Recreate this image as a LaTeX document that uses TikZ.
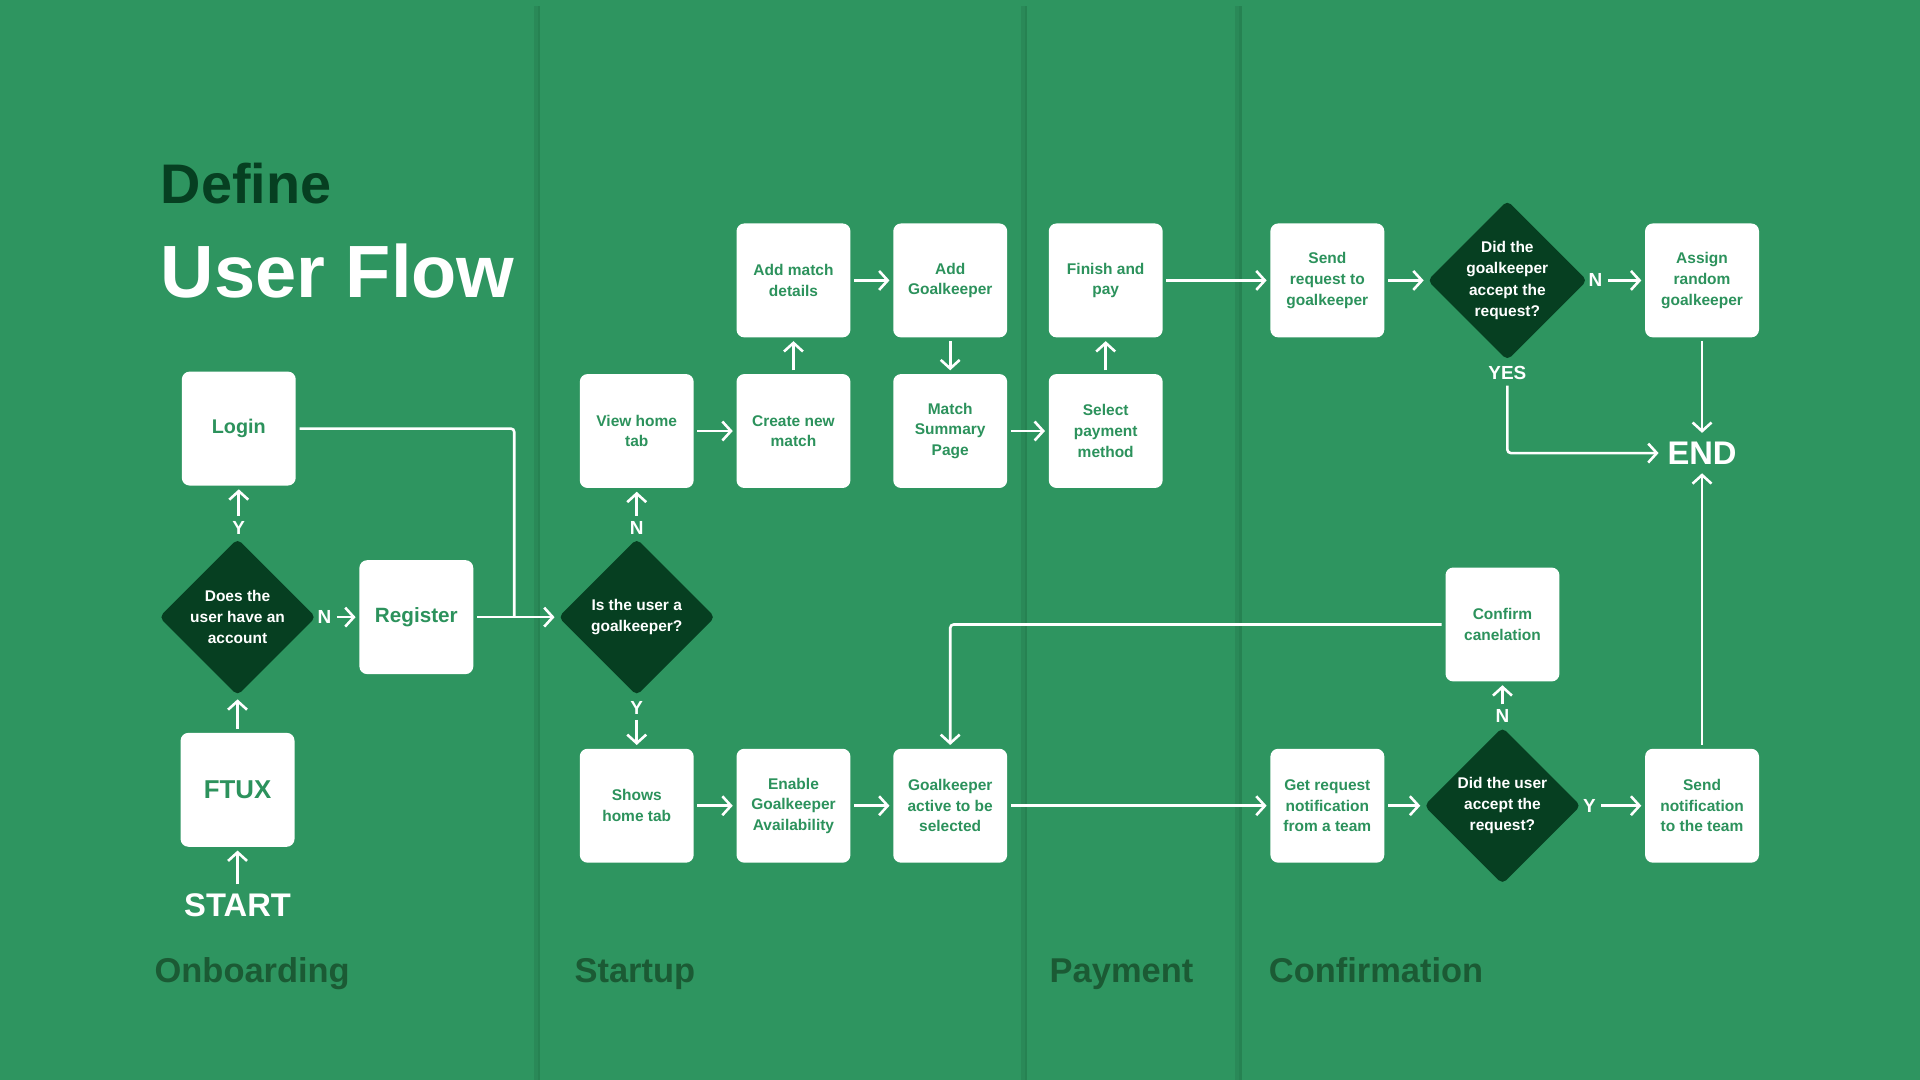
\documentclass[tikz,border=0pt]{standalone}
\usepackage{fontspec}
\setmainfont{Liberation Sans}
\usetikzlibrary{shapes.geometric,arrows.meta}
\definecolor{flowbg}{RGB}{46,149,96}
\definecolor{flowdark}{RGB}{6,63,33}
\definecolor{flowtext}{RGB}{44,146,92}
\definecolor{lanetext}{RGB}{27,90,52}
\definecolor{laneline}{RGB}{38,130,82}

\begin{document}
\begin{tikzpicture}[x=0.025cm,y=-0.025cm,
    screen/.style={fill=white, rounded corners=4.5pt, minimum width=2.325cm, minimum height=2.325cm,
      inner sep=0pt, align=center, text=flowtext, font=\bfseries\fontsize{9}{12}\selectfont},
    choice/.style={diamond, fill=flowdark, rounded corners=3pt, minimum width=3.2cm, minimum height=3.2cm,
      inner sep=0pt, align=center, text=white, font=\bfseries\fontsize{9}{12.3}\selectfont},
    answer/.style={text=white, font=\bfseries\fontsize{11}{13}\selectfont, inner sep=1pt},
    endpoint/.style={text=white, font=\bfseries\fontsize{19}{22}\selectfont, inner sep=3pt},
    arr/.style={white, line width=1.5pt, -{Straight Barb[length=5pt,width=11pt]}, shorten <=2pt, shorten >=2pt},
    link/.style={white, line width=1.5pt, shorten <=2pt, rounded corners=2pt},
    lane/.style={text=lanetext, font=\bfseries\fontsize{20}{24}\selectfont, anchor=base west, inner sep=0pt}]
    \fill[flowbg] (0,0) rectangle (1568,882);
    \useasboundingbox (0,0) rectangle (1568,882);
    % lanes
    \foreach \x in {440,838,1013} {
        \draw[black, opacity=0.08, line width=3pt] (\x-2,5) -- (\x-2,882);
        \draw[laneline, line width=1.4pt] (\x,5) -- (\x,882);
    }
    \node[lane] (onboarding) at (126,802) {Onboarding};
    \node[lane] (startup) at (469,802) {Startup};
    \node[lane] (payment) at (857,802) {Payment};
    \node[lane] (confirmation) at (1036,802) {Confirmation};
    % title
    \node[anchor=base west, inner sep=0pt, text=flowdark, font=\bfseries\fontsize{32.4}{36}\selectfont] (define) at (131,166) {Define};
    \node[anchor=base west, inner sep=0pt, text=white, font=\bfseries\fontsize{43}{50}\selectfont] (userflow) at (131,243) {User Flow};
    % onboarding
    \node[screen, font=\bfseries\fontsize{11.5}{14}\selectfont] (login) at (195,350) {Login};
    \node[screen, font=\bfseries\fontsize{12}{14}\selectfont] (register) at (340,504) {Register};
    \node[screen, font=\bfseries\fontsize{15}{18}\selectfont] (ftux) at (194,645) {FTUX};
    \node[choice] (account) at (194,504) {Does the\\user have an\\account};
    \node[endpoint] (start) at (194,739) {START};
    \node[answer] (accountY) at (195,431) {Y};
    \node[answer] (accountN) at (265,504) {N};
    \coordinate (join) at (420,504);
    % startup
    \node[choice] (keeper) at (520,504) {Is the user a\\goalkeeper?};
    \node[answer] (keeperN) at (520,431) {N};
    \node[answer] (keeperY) at (520,578) {Y};
    \node[screen] (viewhome) at (520,352) {View home\\tab};
    \node[screen] (newmatch) at (648,352) {Create new\\match};
    \node[screen] (details) at (648,229) {Add match\\details};
    \node[screen] (addkeeper) at (776,229) {Add\\Goalkeeper};
    \node[screen] (summary) at (776,352) {Match\\Summary\\Page};
    \node[screen] (showshome) at (520,658) {Shows\\home tab};
    \node[screen] (enable) at (648,658) {Enable\\Goalkeeper\\Availability};
    \node[screen] (active) at (776,658) {Goalkeeper\\active to be\\selected};
    % payment
    \node[screen] (finish) at (903,229) {Finish and\\pay};
    \node[screen] (paymethod) at (903,352) {Select\\payment\\method};
    % confirmation
    \node[screen] (sendreq) at (1084,229) {Send\\request to\\goalkeeper};
    \node[choice] (accepted) at (1231,229) {Did the\\goalkeeper\\accept the\\request?};
    \node[answer] (acceptedN) at (1303,229) {N};
    \node[answer] (acceptedY) at (1231,305) {YES};
    \node[screen] (assign) at (1390,229) {Assign\\random\\goalkeeper};
    \node[endpoint] (end) at (1390,370) {END};
    \node[screen] (confirm) at (1227,510) {Confirm\\canelation};
    \node[screen] (getreq) at (1084,658) {Get request\\notification\\from a team};
    \node[choice] (useraccept) at (1227,658) {Did the user\\accept the\\request?};
    \node[answer] (userN) at (1227,585) {N};
    \node[answer] (userY) at (1298,658) {Y};
    \node[screen] (notify) at (1390,658) {Send\\notification\\to the team};
    % connectors
    \draw[arr] (start) -- (ftux);
    \draw[arr] (ftux) -- (account);
    \draw[arr] (accountY) -- (login);
    \draw[arr] (accountN) -- (register);
    \draw[link] (login) -| (join);
    \draw[arr] (register) -- (keeper);
    \draw[arr] (keeperN) -- (viewhome);
    \draw[arr] (keeperY) -- (showshome);
    \draw[arr] (viewhome) -- (newmatch);
    \draw[arr] (newmatch) -- (details);
    \draw[arr] (details) -- (addkeeper);
    \draw[arr] (addkeeper) -- (summary);
    \draw[arr] (summary) -- (paymethod);
    \draw[arr] (paymethod) -- (finish);
    \draw[arr] (finish) -- (sendreq);
    \draw[arr] (sendreq) -- (accepted);
    \draw[arr] (acceptedN) -- (assign);
    \draw[arr] (assign) -- (end);
    \draw[arr, rounded corners=2pt] (acceptedY) |- (end);
    \draw[arr] (showshome) -- (enable);
    \draw[arr] (enable) -- (active);
    \draw[arr] (active) -- (getreq);
    \draw[arr] (getreq) -- (useraccept);
    \draw[arr] (userN) -- (confirm);
    \draw[arr] (userY) -- (notify);
    \draw[arr, rounded corners=2pt] (confirm) -| (active);
    \draw[arr] (notify) -- (end);
\end{tikzpicture}
\end{document}
